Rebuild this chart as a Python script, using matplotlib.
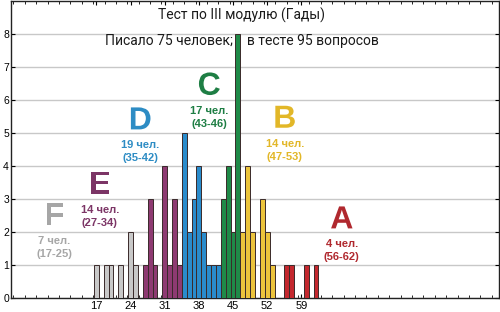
import matplotlib
matplotlib.use("Agg")
import matplotlib.pyplot as plt
import matplotlib.patheffects as pe
from matplotlib.ticker import MultipleLocator

plt.rcParams['font.family'] = ['Liberation Sans', 'DejaVu Sans']

# Data: score -> number of students, grouped by grade
f_scores = [17, 19, 20, 22, 24, 25]
f_counts = [1, 1, 1, 1, 2, 1]
e_scores = [27, 28, 29, 31, 32, 33, 34]
e_counts = [1, 3, 1, 4, 1, 3, 1]
d_scores = [35, 36, 37, 38, 39, 40, 41, 42]
d_counts = [5, 2, 3, 4, 2, 1, 1, 1]
c_scores = [43, 44, 45, 46]
c_counts = [3, 4, 2, 8]
b_scores = [47, 48, 49, 51, 52, 53]
b_counts = [2, 4, 2, 3, 2, 1]
a_scores = [56, 57, 60, 62]
a_counts = [1, 1, 1, 1]

grades = ["F", "E", "D", "C", "B", "A"]
grade_people = ["7 чел.", "14 чел.", "19 чел.", "17 чел.", "14 чел.", "4 чел."]
grade_ranges = ["(17-25)", "(27-34)", "(35-42)", "(43-46)", "(47-53)", "(56-62)"]
tick_labels = [17, 24, 31, 38, 45, 52, 59]

groups = [(f_scores, f_counts), (e_scores, e_counts), (d_scores, d_counts),
          (c_scores, c_counts), (b_scores, b_counts), (a_scores, a_counts)]
bar_colors = ["#c8c8c8", "#8e3a72", "#2a8ccc", "#1f8a48", "#ecc43c", "#c4282e"]
text_colors = ["#a6a6a6", "#7c3566", "#2d8cc4", "#1e7e44", "#e2b728", "#b0282e"]
# label anchor (score, count) for each grade letter
label_pos = [(8.4, 2.45), (17.7, 3.4), (26.0, 5.35), (40.1, 6.4), (55.6, 5.4), (67.3, 2.35)]

fig = plt.figure(figsize=(5, 3.12), dpi=100)
ax = fig.add_axes([0.022, 0.045, 0.976, 0.952])

for (s, c), col in zip(groups, bar_colors):
    ax.bar(s, c, width=1.0, color=col, edgecolor="#3a2a2a", linewidth=0.7, zorder=3)

ax.set_xlim(-0.5, 99.5)
ax.set_ylim(0, 9)
ax.yaxis.grid(True, color="#c8c8c8", linewidth=1.0, zorder=0)
ax.set_yticks(range(0, 9))
ax.tick_params(axis="y", labelsize=7.5, direction="in", length=3, pad=1.5, right=True)
ax.set_xticks(tick_labels)
ax.set_xticklabels([str(t) for t in tick_labels], fontsize=8)
ax.xaxis.set_minor_locator(MultipleLocator(7 / 3))
ax.tick_params(axis="x", which="both", direction="in", top=True, length=3, pad=2)
ax.tick_params(axis="x", which="minor", length=2)
for sp in ax.spines.values():
    sp.set_linewidth(1.0)
    sp.set_color("#222222")

# title lines
title_font = ["Roboto", "DejaVu Sans"]
ax.text(46.8, 8.55, "Тест по III модулю (Гады)", ha="center", va="center",
        fontsize=10, color="#1a1a1a", family=title_font)
ax.text(46.8, 7.8, "Писало 75 человек;    в тесте 95 вопросов", ha="center", va="center",
        fontsize=10, color="#1a1a1a", family=title_font)

for g, ppl, rng, col, (x, y) in zip(grades, grade_people, grade_ranges, text_colors, label_pos):
    ax.text(x, y, g, ha="center", va="center", fontsize=23, color=col,
            fontweight="bold",
            path_effects=[pe.withStroke(linewidth=1.5, foreground="#ffffff")])
    ax.text(x, y - 0.72, ppl, ha="center", va="center", fontsize=8, color=col,
            fontweight="bold")
    ax.text(x, y - 1.12, rng, ha="center", va="center", fontsize=8, color=col,
            fontweight="bold")

fig.savefig("out.png", dpi=100)
